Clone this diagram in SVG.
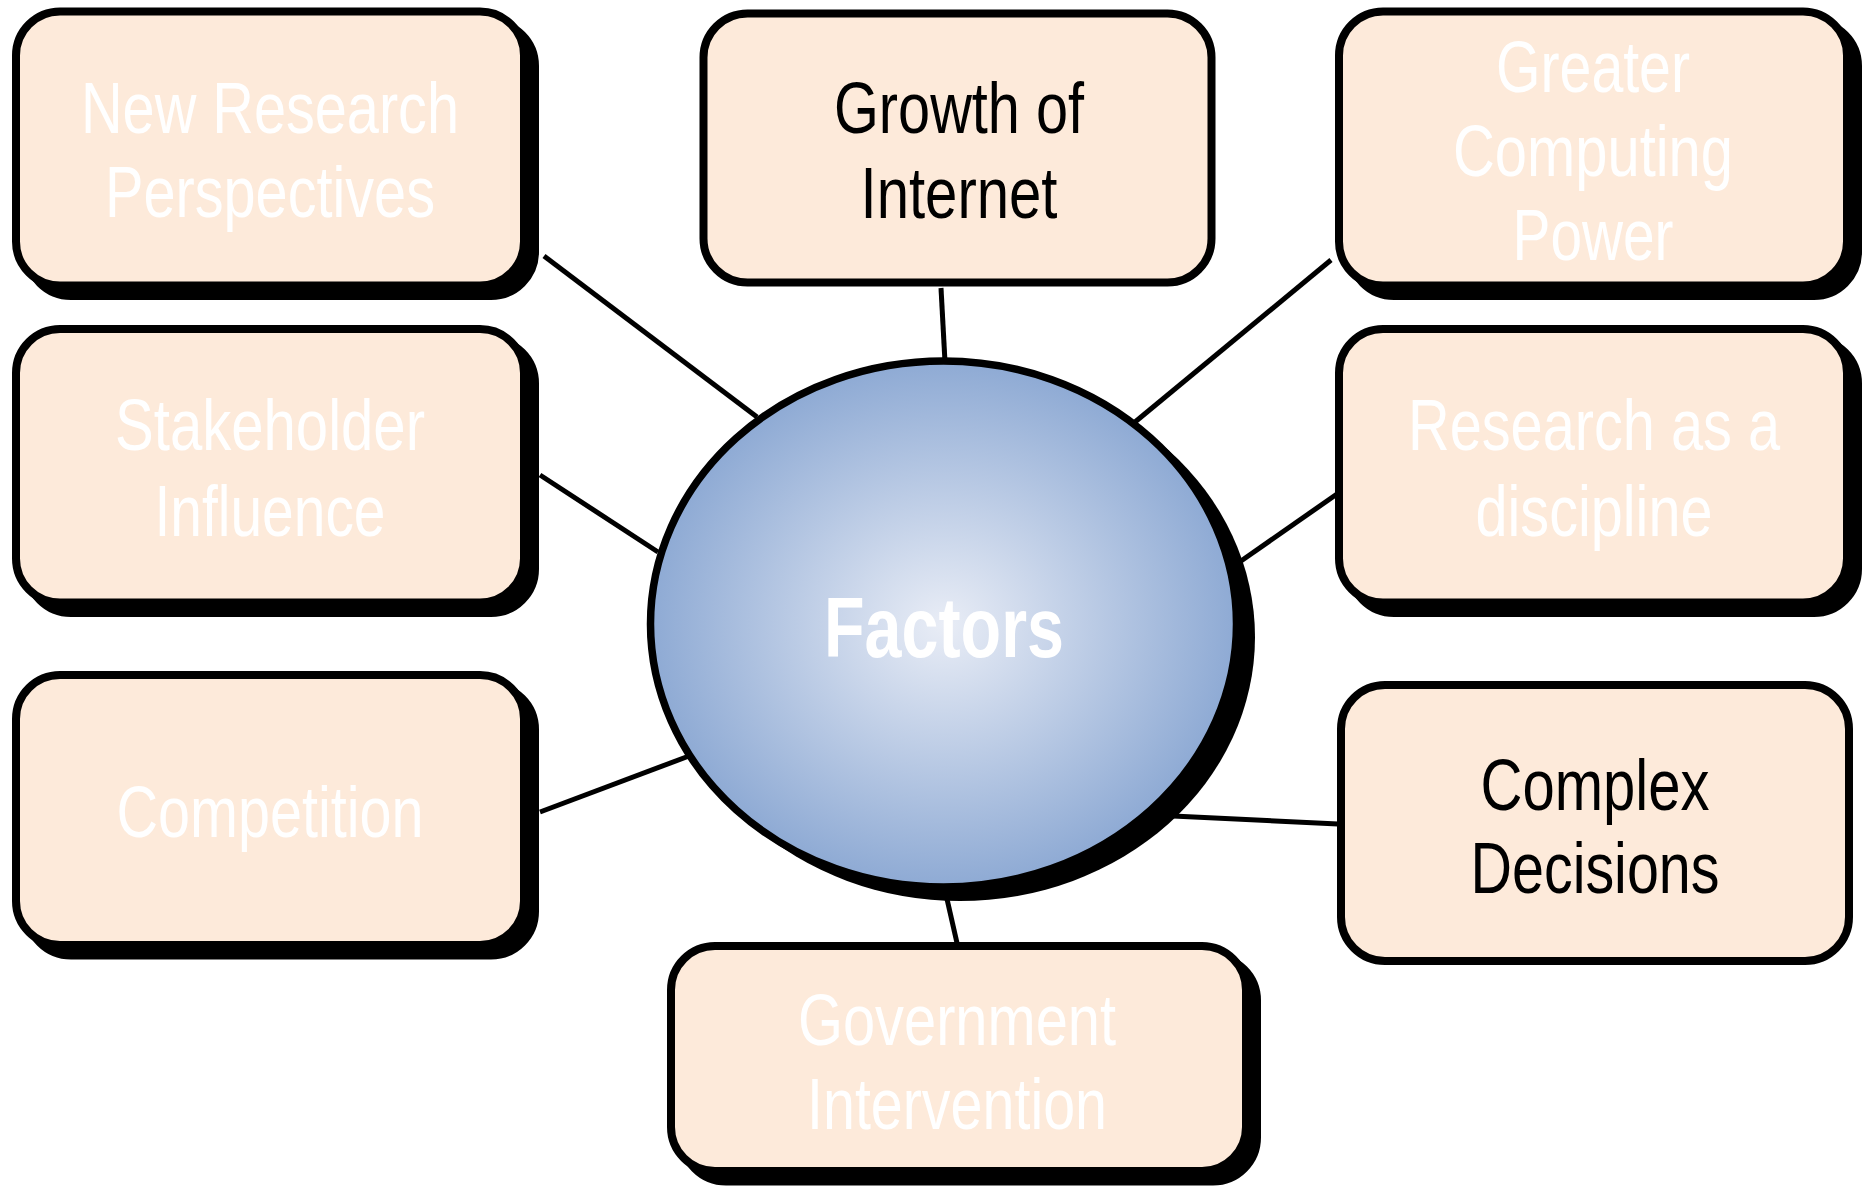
<svg xmlns="http://www.w3.org/2000/svg" width="1868" height="1187" viewBox="0 0 1868 1187">
<defs>
<radialGradient id="g" cx="50%" cy="50%" r="50%">
<stop offset="0" stop-color="#e9edf6"/>
<stop offset="1" stop-color="#8eaad4"/>
</radialGradient>
<style>
.sh{fill:#000;stroke:#000;stroke-width:8}
.box{fill:#fdeada;stroke:#000;stroke-width:8}
.t{font-family:"Liberation Sans Narrow","Liberation Sans",Arial,sans-serif;font-size:72px;text-anchor:middle}
.w{fill:#fff}
.k{fill:#000}
.ln{stroke:#000;stroke-width:5;fill:none}
</style>
</defs>
<rect width="1868" height="1187" fill="#fff"/>
<g id="connectors">
<line class="ln" x1="544" y1="256" x2="757" y2="417"/>
<line class="ln" x1="941" y1="288" x2="945" y2="362"/>
<line class="ln" x1="1331" y1="260" x2="1135" y2="422"/>
<line class="ln" x1="540" y1="475" x2="658" y2="552"/>
<line class="ln" x1="1337" y1="494" x2="1241" y2="561"/>
<line class="ln" x1="540" y1="812" x2="689" y2="756"/>
<line class="ln" x1="1173" y1="816" x2="1338" y2="824"/>
<line class="ln" x1="947" y1="899" x2="957" y2="943"/>
</g>
<g id="factors">
<ellipse cx="960" cy="637" rx="295" ry="264" fill="#000"/>
<ellipse cx="943.5" cy="624" rx="293" ry="263" fill="url(#g)" stroke="#000" stroke-width="7.5"/>
<text x="944" y="657" style="font-family:'Liberation Sans Narrow','Liberation Sans',Arial,sans-serif;font-size:86px;font-weight:bold;text-anchor:middle" fill="#fff" textLength="240" lengthAdjust="spacingAndGlyphs">Factors</text>
</g>
<g id="new-research">
<rect class="sh" x="27" y="22" width="508" height="274" rx="44"/>
<rect class="box" x="16" y="11.5" width="508" height="274" rx="44"/>
<text class="t w" x="270" y="133" textLength="378" lengthAdjust="spacingAndGlyphs">New Research</text>
<text class="t w" x="270" y="217" textLength="330" lengthAdjust="spacingAndGlyphs">Perspectives</text>
</g>
<g id="growth">
<rect class="box" x="703.5" y="13.5" width="508" height="269" rx="44"/>
<text class="t k" x="959" y="133" textLength="250" lengthAdjust="spacingAndGlyphs">Growth of</text>
<text class="t k" x="959" y="218" textLength="197" lengthAdjust="spacingAndGlyphs">Internet</text>
</g>
<g id="computing">
<rect class="sh" x="1350" y="22" width="508" height="274" rx="44"/>
<rect class="box" x="1339" y="11.5" width="508" height="274" rx="44"/>
<text class="t w" x="1593" y="92" textLength="194" lengthAdjust="spacingAndGlyphs">Greater</text>
<text class="t w" x="1593" y="176" textLength="280" lengthAdjust="spacingAndGlyphs">Computing</text>
<text class="t w" x="1593" y="260" textLength="161" lengthAdjust="spacingAndGlyphs">Power</text>
</g>
<g id="stakeholder">
<rect class="sh" x="27" y="339.5" width="508" height="273.5" rx="44"/>
<rect class="box" x="16" y="329" width="508" height="273.5" rx="44"/>
<text class="t w" x="270" y="450" textLength="310" lengthAdjust="spacingAndGlyphs">Stakeholder</text>
<text class="t w" x="270" y="536" textLength="231" lengthAdjust="spacingAndGlyphs">Influence</text>
</g>
<g id="discipline">
<rect class="sh" x="1350" y="339.5" width="508" height="273.5" rx="44"/>
<rect class="box" x="1339" y="329" width="508" height="273.5" rx="44"/>
<text class="t w" x="1594" y="450" textLength="372" lengthAdjust="spacingAndGlyphs">Research as a</text>
<text class="t w" x="1594" y="536" textLength="237" lengthAdjust="spacingAndGlyphs">discipline</text>
</g>
<g id="competition">
<rect class="sh" x="27" y="685.5" width="508" height="270" rx="44"/>
<rect class="box" x="16" y="675" width="508" height="270" rx="44"/>
<text class="t w" x="270" y="837" textLength="307" lengthAdjust="spacingAndGlyphs">Competition</text>
</g>
<g id="complex">
<rect class="box" x="1341" y="685" width="508" height="276" rx="44"/>
<text class="t k" x="1595" y="810" textLength="229" lengthAdjust="spacingAndGlyphs">Complex</text>
<text class="t k" x="1595" y="893" textLength="249" lengthAdjust="spacingAndGlyphs">Decisions</text>
</g>
<g id="government">
<rect class="sh" x="682" y="956.5" width="575" height="225" rx="44"/>
<rect class="box" x="671" y="946" width="575" height="225" rx="44"/>
<text class="t w" x="957" y="1045" textLength="318" lengthAdjust="spacingAndGlyphs">Government</text>
<text class="t w" x="957" y="1129" textLength="300" lengthAdjust="spacingAndGlyphs">Intervention</text>
</g>
</svg>
